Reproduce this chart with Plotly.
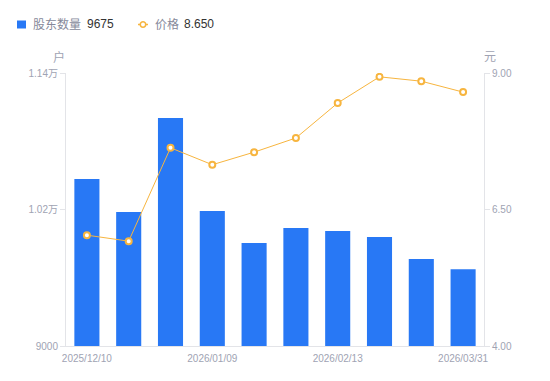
import plotly.graph_objects as go

dates = ["2025/12/10", "2025/12/19", "2025/12/31", "2026/01/09", "2026/01/20",
         "2026/01/30", "2026/02/13", "2026/02/27", "2026/03/10", "2026/03/31"]
holders = [10468, 10178, 11004, 10187, 9905, 10037, 10011, 9958, 9765, 9675]
prices = [6.03, 5.92, 7.63, 7.32, 7.55, 7.81, 8.45, 8.93, 8.85, 8.650]

x_ticks = ["2025/12/10", "2026/01/09", "2026/02/13", "2026/03/31"]
left_vals = [9000, 10200, 11400]
left_text = ["9000", "1.02万", "1.14万"]
right_vals = [4.0, 6.5, 9.0]
right_text = ["4.00", "6.50", "9.00"]

BLUE = "#2878F5"
ORANGE = "#F7B53F"
GRAY = "#A0A3B3"
LEG_GRAY = "#86899A"
DARK = "#333333"
AXIS = "#E3E4E8"
FONT = "Liberation Sans, Noto Sans CJK SC, sans-serif"

# page offset (body margin) compensation
OFF = 8
W, H = 550, 381
ML, MR, MT, MB = 66 - OFF, W - 484 + OFF, 73 - OFF, H - 346 + OFF
PW, PH = W - ML - MR, H - MT - MB


def px(sx):
    return (sx - OFF - ML) / PW


def py(sy):
    return (H - MB - (sy - OFF)) / PH


fig = go.Figure()
fig.add_trace(go.Bar(
    x=dates, y=holders, marker=dict(color=BLUE, line=dict(width=0)),
    width=0.6, name="股东数量", yaxis="y"))
fig.add_trace(go.Scatter(
    x=dates, y=prices, mode="lines+markers",
    line=dict(color=ORANGE, width=1),
    marker=dict(symbol="circle", size=6, color="white", line=dict(color=ORANGE, width=2)),
    name="价格", yaxis="y2"))

legend_y = 24.5
shapes = [
    dict(type="rect", xref="paper", yref="paper",
         x0=px(17), x1=px(26), y0=py(20.5), y1=py(28.5),
         fillcolor=BLUE, line=dict(width=0)),
    dict(type="line", xref="paper", yref="paper",
         x0=px(138), x1=px(148), y0=py(legend_y), y1=py(legend_y),
         line=dict(color=ORANGE, width=1.5)),
    dict(type="circle", xref="paper", yref="paper",
         x0=px(140.3), x1=px(145.7), y0=py(legend_y + 2.7), y1=py(legend_y - 2.7),
         fillcolor="white", line=dict(color=ORANGE, width=1.5)),
]


def ann(text, sx, sy, color, size, anchor="left"):
    return dict(text=text, xref="paper", yref="paper", x=px(sx), y=py(sy),
                showarrow=False, font=dict(size=size, color=color),
                xanchor=anchor, yanchor="middle")


annotations = [
    ann("股东数量", 30.5, legend_y, LEG_GRAY, 12),
    ann(str(holders[-1]), 84.5, legend_y, DARK, 12),
    ann("价格", 152.5, legend_y, LEG_GRAY, 12),
    ann(f"{prices[-1]:.3f}", 181.5, legend_y, DARK, 12),
    ann("户", 59, 57, GRAY, 12, "center"),
    ann("元", 490, 57, GRAY, 12, "center"),
]

fig.update_layout(
    width=W, height=H,
    margin=dict(l=ML, r=MR, t=MT, b=MB),
    plot_bgcolor="white", paper_bgcolor="white",
    font=dict(family=FONT, size=10, color=GRAY),
    showlegend=False,
    xaxis=dict(type="category", tickvals=x_ticks, ticktext=x_ticks,
               range=[-0.5, len(dates) - 0.5],
               showgrid=False, showline=True, linecolor=AXIS, linewidth=1,
               ticks="", ticklabelstandoff=3,
               tickfont=dict(size=10, color=GRAY), zeroline=False),
    yaxis=dict(range=[9000, 11400], tickvals=left_vals, ticktext=left_text,
               showgrid=False, showline=True, linecolor=AXIS, linewidth=1,
               ticks="outside", ticklen=5, tickcolor=AXIS,
               tickfont=dict(size=10, color=GRAY), zeroline=False),
    yaxis2=dict(range=[4, 9], tickvals=right_vals, ticktext=right_text,
                overlaying="y", side="right",
                showgrid=False, showline=True, linecolor=AXIS, linewidth=1,
                ticks="outside", ticklen=5, tickcolor=AXIS,
                tickfont=dict(size=10, color=GRAY), zeroline=False),
    shapes=shapes,
    annotations=annotations,
)

fig.write_html("out.html")
